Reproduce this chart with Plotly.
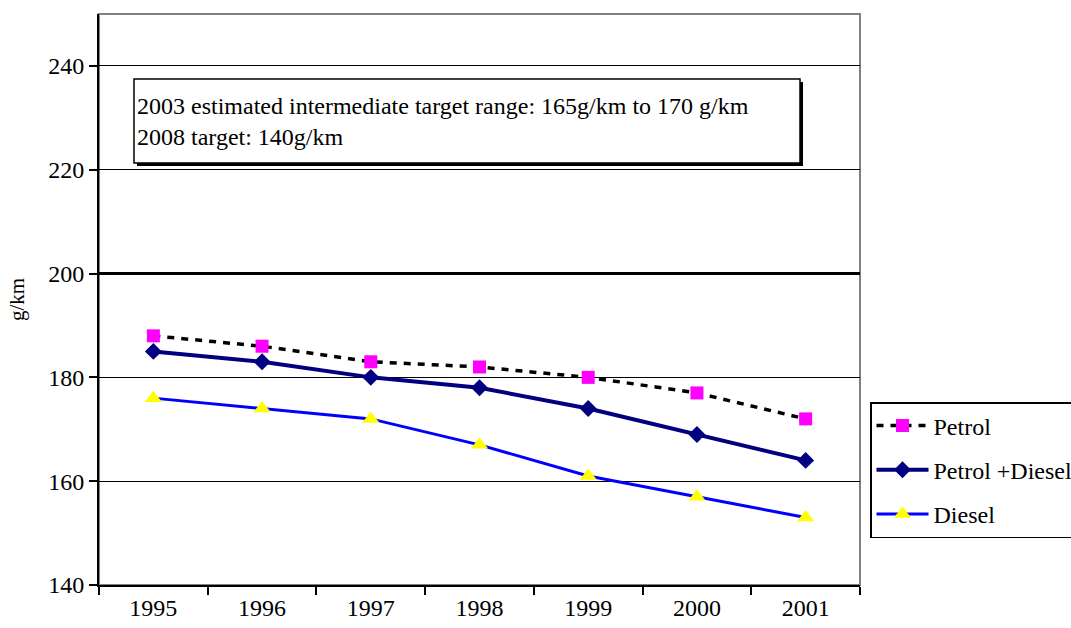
import plotly.graph_objects as go

years = ["1995", "1996", "1997", "1998", "1999", "2000", "2001"]
petrol = [188, 186, 183, 182, 180, 177, 172]
petrol_diesel = [185, 183, 180, 178, 174, 169, 164]
diesel = [176, 174, 172, 167, 161, 157, 153]
y_ticks = [140, 160, 180, 200, 220, 240]
note_lines = ["2003 estimated intermediate target range: 165g/km to 170 g/km",
              "2008 target: 140g/km"]

FONT = "Liberation Serif"
W, H = 1071, 628
L, R, T, B = 99, 860, 14, 585


def px(x):
    return (x - L) / (R - L)


def py(y):
    return (B - y) / (B - T)


fig = go.Figure()
fig.add_trace(go.Scatter(
    x=years, y=petrol, name="Petrol", mode="lines+markers", legendgroup="a",
    line=dict(color="black", width=3.5, dash="7px,7px"),
    marker=dict(symbol="square", size=13, color="#FF00FF", line=dict(width=0)),
))
fig.add_trace(go.Scatter(
    x=years, y=petrol_diesel, name="Petrol +Diesel", mode="lines+markers", legendgroup="b",
    line=dict(color="#000080", width=4),
    marker=dict(symbol="diamond", size=13, color="#000080", line=dict(width=0)),
))
fig.add_trace(go.Scatter(
    x=years, y=diesel, name="Diesel", mode="lines+markers", legendgroup="c",
    line=dict(color="#0000FF", width=3),
    marker=dict(symbol="triangle-up", size=15, color="#FFFF00", line=dict(width=0)),
))

shapes = [
    # gray top/right frame
    dict(type="rect", xref="paper", yref="paper", x0=0, x1=1, y0=0, y1=1,
         line=dict(color="#808080", width=2), layer="below"),
    # thick 200 gridline
    dict(type="line", xref="paper", yref="y", x0=0, x1=1, y0=200, y1=200,
         line=dict(color="black", width=3), layer="below"),
    # note box shadow
    dict(type="rect", xref="paper", yref="paper", x0=px(137), x1=px(803), y0=py(82), y1=py(166),
         fillcolor="black", line=dict(width=0), layer="above"),
    # note box
    dict(type="rect", xref="paper", yref="paper", x0=px(134), x1=px(800), y0=py(79), y1=py(163),
         fillcolor="white", line=dict(color="black", width=1.5), layer="above"),
]

fig.add_annotation(
    xref="paper", yref="paper", x=px(135), y=py(122), xanchor="left", yanchor="middle",
    text="<br>".join(note_lines), showarrow=False, align="left",
    font=dict(family=FONT, size=24, color="black"),
)

fig.update_layout(
    width=W, height=H,
    margin=dict(l=L, r=W - R, t=T, b=H - B, autoexpand=False),
    paper_bgcolor="white", plot_bgcolor="white",
    font=dict(family=FONT, size=22, color="black"),
    shapes=shapes,
    showlegend=True,
    legend=dict(
        x=px(870), y=py(402), xanchor="left", yanchor="top",
        bgcolor="white", bordercolor="black", borderwidth=1.5,
        font=dict(family=FONT, size=24, color="black"),
        traceorder="grouped", tracegroupgap=10, itemwidth=52,
    ),
    xaxis=dict(
        type="category", range=[-0.5, 6.5], tickson="boundaries",
        showgrid=False, showline=True, linecolor="black", linewidth=2,
        ticks="outside", ticklen=8, tickwidth=2, tickcolor="black",
        tickfont=dict(family=FONT, size=24, color="black"),
        zeroline=False,
    ),
    yaxis=dict(
        range=[140, 250], tickvals=y_ticks,
        showgrid=True, gridcolor="black", gridwidth=1,
        showline=True, linecolor="black", linewidth=2,
        ticks="outside", ticklen=8, tickwidth=2, tickcolor="black",
        tickfont=dict(family=FONT, size=24, color="black"),
        zeroline=False,
        title=dict(text="g/km", font=dict(family=FONT, size=21, color="black"), standoff=18),
    ),
)

fig.write_html("out.html")
